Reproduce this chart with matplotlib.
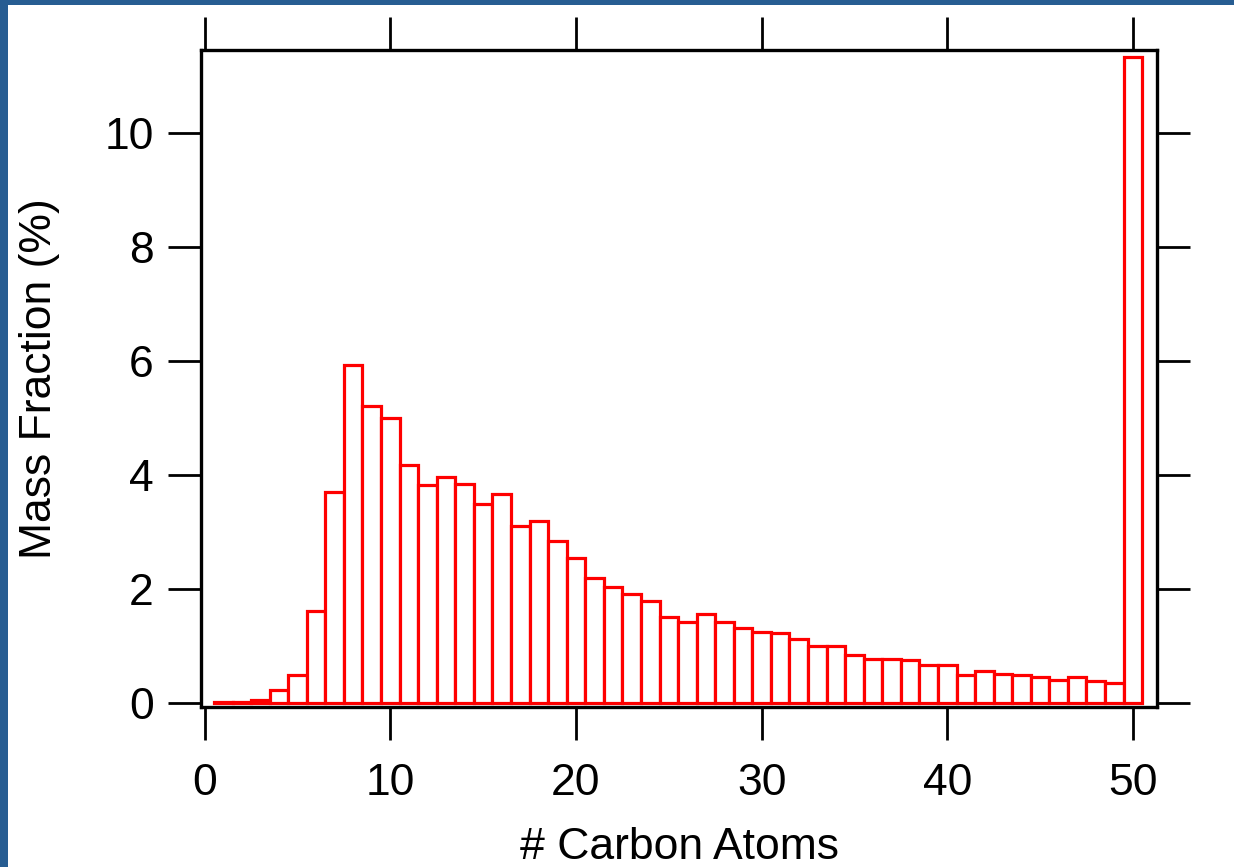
import matplotlib
matplotlib.use("Agg")
import matplotlib.pyplot as plt
from matplotlib.patches import Rectangle

# mass fraction (%) per carbon number
carbon = list(range(1, 51))
frac = [0.01, 0.01, 0.06, 0.23, 0.49, 1.61, 3.71, 5.94, 5.22, 5.01,
        4.18, 3.82, 3.96, 3.85, 3.49, 3.66, 3.11, 3.20, 2.84, 2.55,
        2.20, 2.04, 1.92, 1.79, 1.51, 1.43, 1.57, 1.43, 1.31, 1.25,
        1.22, 1.12, 1.00, 1.00, 0.84, 0.78, 0.77, 0.75, 0.67, 0.67,
        0.49, 0.57, 0.51, 0.50, 0.46, 0.40, 0.45, 0.39, 0.35, 11.33]
xticks = [0, 10, 20, 30, 40, 50]
yticks = [0, 2, 4, 6, 8, 10]

plt.rcParams['font.family'] = ['Liberation Sans', 'DejaVu Sans']

W, H = 1234, 867
fig = plt.figure(figsize=(W / 100, H / 100), dpi=100)

# blue frame strips on the left and top edges
border = '#275d92'
fig.patches.append(Rectangle((0, 0), 8 / W, 1, transform=fig.transFigure,
                             facecolor=border, edgecolor='none', zorder=0))
fig.patches.append(Rectangle((0, 1 - 5 / H), 1, 5 / H, transform=fig.transFigure,
                             facecolor=border, edgecolor='none', zorder=0))

ax = fig.add_axes([201 / W, 1 - 707 / H, (1157 - 201) / W, (707 - 50) / H])
ax.bar(carbon, frac, width=1.0, facecolor='white', edgecolor='red', linewidth=2.3)

ax.set_xlim(-0.2, 51.3)
ax.set_ylim(-0.07, 11.46)
ax.set_xticks(xticks)
ax.set_yticks(yticks)

for s in ax.spines.values():
    s.set_linewidth(2.4)

ax.tick_params(direction='out', length=24, width=2.0, top=True, right=True,
               labeltop=False, labelright=False, labelsize=32)
ax.tick_params(axis='x', pad=16)
ax.tick_params(axis='y', pad=10)

ax.set_xlabel('# Carbon Atoms', fontsize=32)
ax.set_ylabel('Mass Fraction (%)', fontsize=32)
ax.xaxis.set_label_coords(0.5, -0.182)
ax.yaxis.set_label_coords(-0.148, 0.5)

fig.savefig('out.png', dpi=100)
